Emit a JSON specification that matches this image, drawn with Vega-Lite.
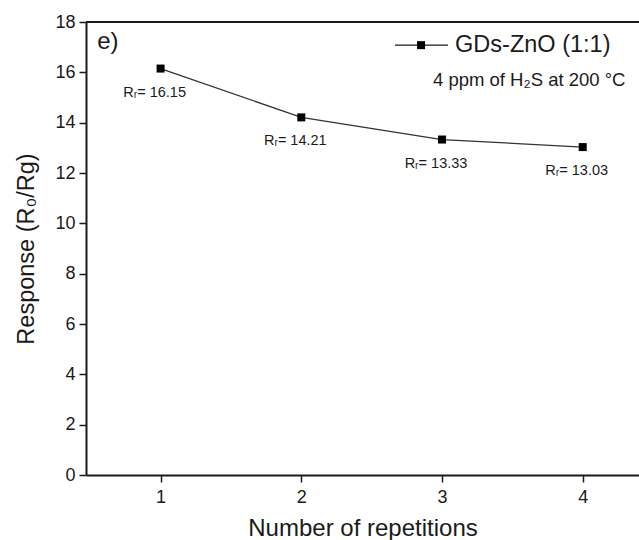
{
  "$schema": "https://vega.github.io/schema/vega-lite/v6.json",
  "autosize": "none",
  "width": 553,
  "height": 453,
  "padding": {"left": 86, "top": 22, "right": 0, "bottom": 65},
  "background": "white",
  "config": {"view": {"stroke": null}, "font": "Liberation Sans"},
  "datasets": {
    "pts": [
      {"rep": 1, "resp": 16.15, "label": "Rᵣ= 16.15"},
      {"rep": 2, "resp": 14.21, "label": "Rᵣ= 14.21"},
      {"rep": 3, "resp": 13.33, "label": "Rᵣ= 13.33"},
      {"rep": 4, "resp": 13.03, "label": "Rᵣ= 13.03"}
    ]
  },
  "layer": [
    {
      "data": {"name": "pts"},
      "mark": {"type": "line", "color": "#333333", "strokeWidth": 1.3},
      "encoding": {
        "x": {
          "field": "rep", "type": "quantitative",
          "scale": {"domain": [0.47, 4.4], "nice": false, "zero": false},
          "axis": {
            "title": "Number of repetitions",
            "titleFontSize": 24, "titleFontWeight": "normal", "titleColor": "#1a1a1a", "titlePadding": 10,
            "values": [1, 1.5, 2, 2.5, 3, 3.5, 4, 4.5],
            "format": "d",
            "labelExpr": "datum.value % 1 === 0 ? datum.label : ''",
            "labelFontSize": 18, "labelColor": "#1a1a1a", "labelPadding": 6,
            "tickSize": {"condition": {"test": "datum.value % 1 !== 0", "value": 4}, "value": 7},
            "tickColor": "#1a1a1a", "tickWidth": 1.5,
            "domainColor": "#1a1a1a", "domainWidth": 2,
            "grid": false
          }
        },
        "y": {
          "field": "resp", "type": "quantitative",
          "scale": {"domain": [0, 18], "nice": false},
          "axis": {
            "title": "Response (R₀/Rg)",
            "titleFontSize": 23.5, "titleFontWeight": "normal", "titleColor": "#1a1a1a", "titlePadding": 16,
            "values": [0, 1, 2, 3, 4, 5, 6, 7, 8, 9, 10, 11, 12, 13, 14, 15, 16, 17, 18],
            "labelExpr": "datum.value % 2 === 0 ? datum.label : ''",
            "labelFontSize": 18, "labelColor": "#1a1a1a", "labelPadding": 4,
            "tickSize": {"condition": {"test": "datum.value % 2 === 1", "value": 4}, "value": 7},
            "tickColor": "#1a1a1a", "tickWidth": 1.5,
            "domainColor": "#1a1a1a", "domainWidth": 2,
            "grid": false
          }
        }
      }
    },
    {
      "data": {"name": "pts"},
      "mark": {"type": "point", "shape": "square", "filled": true, "color": "black", "size": 64, "opacity": 1},
      "encoding": {
        "x": {"field": "rep", "type": "quantitative"},
        "y": {"field": "resp", "type": "quantitative"}
      }
    },
    {
      "data": {"name": "pts"},
      "mark": {"type": "text", "fontSize": 14.5, "color": "#1a1a1a", "dx": -6, "dy": 24},
      "encoding": {
        "x": {"field": "rep", "type": "quantitative"},
        "y": {"field": "resp", "type": "quantitative"},
        "text": {"field": "label"}
      }
    },
    {
      "data": {"values": [{"y": 18}]},
      "mark": {"type": "rule", "color": "#1a1a1a", "strokeWidth": 2},
      "encoding": {"y": {"field": "y", "type": "quantitative"}}
    },
    {
      "data": {"values": [{"x": 2.666, "x2": 3.043, "y": 17.08}]},
      "mark": {"type": "rule", "color": "#1a1a1a", "strokeWidth": 1.3},
      "encoding": {
        "x": {"field": "x", "type": "quantitative"},
        "x2": {"field": "x2"},
        "y": {"field": "y", "type": "quantitative"}
      }
    },
    {
      "data": {"values": [{"x": 2.851, "y": 17.08}]},
      "mark": {"type": "point", "shape": "square", "filled": true, "color": "black", "size": 64, "opacity": 1},
      "encoding": {
        "x": {"field": "x", "type": "quantitative"},
        "y": {"field": "y", "type": "quantitative"}
      }
    },
    {
      "data": {"values": [
        {"x": 3.093, "y": 17.08, "t": "GDs-ZnO (1:1)", "s": 23.5},
        {"x": 2.936, "y": 15.69, "t": "4 ppm of H₂S at 200 °C", "s": 18.5}
      ]},
      "mark": {"type": "text", "align": "left", "baseline": "middle", "color": "#1a1a1a"},
      "encoding": {
        "x": {"field": "x", "type": "quantitative"},
        "y": {"field": "y", "type": "quantitative"},
        "text": {"field": "t"},
        "size": {"field": "s", "type": "quantitative", "scale": null}
      }
    },
    {
      "data": {"values": [{"x": 0.55, "y": 17.2, "t": "e)"}]},
      "mark": {"type": "text", "align": "left", "baseline": "middle", "fontSize": 24, "color": "#1a1a1a"},
      "encoding": {
        "x": {"field": "x", "type": "quantitative"},
        "y": {"field": "y", "type": "quantitative"},
        "text": {"field": "t"}
      }
    }
  ]
}
